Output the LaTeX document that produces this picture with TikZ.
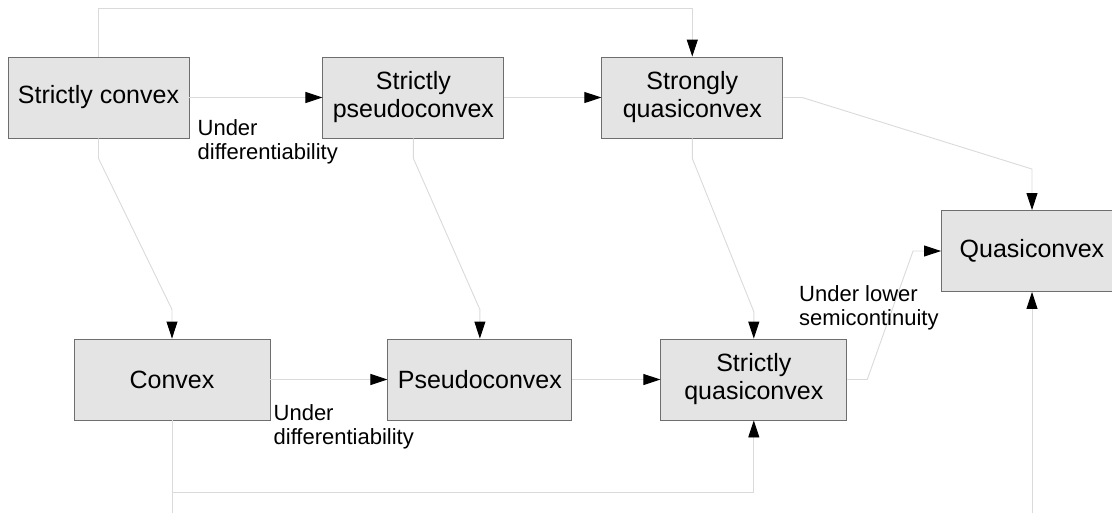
\documentclass[tikz,border=0pt]{standalone}
\usepackage{fontspec}
\setmainfont{Liberation Sans}
\usepackage{xcolor}
\usepackage{tikz}
\usetikzlibrary{arrows.meta,positioning,calc}

\definecolor{boxfill}{HTML}{E4E4E4}
\definecolor{boxline}{HTML}{6E6E6E}
\definecolor{linkgray}{HTML}{DADADA}

\begin{document}
\begin{tikzpicture}[x=1pt,y=-1pt,
  cbox/.style={draw=boxline,fill=boxfill,line width=0.9pt,minimum width=181pt,minimum height=81pt,
    align=center,inner sep=0pt,font=\fontsize{25}{28}\selectfont},
  link/.style={draw=linkgray,line width=0.9pt,-{Triangle[length=17pt,width=11pt,color=black]}},
  cond/.style={align=left,inner sep=0pt,font=\fontsize{22}{24.5}\selectfont}]
\useasboundingbox (0,0) rectangle (1112,512);
\clip (0,0) rectangle (1112,512);

\node[cbox] (scx) at (98.5,97.5) {Strictly convex};
\node[cbox,right=133pt of scx] (spc) {Strictly\\pseudoconvex};
\node[cbox,right=97pt of spc] (sqc) {Strongly\\quasiconvex};
\node[cbox,minimum width=196pt] (cx) at (172,379.5) {Convex};
\node[cbox,minimum width=184pt,right=117pt of cx] (pc) {Pseudoconvex};
\node[cbox,minimum width=186pt,right=88pt of pc] (sqx) {Strictly\\quasiconvex};
\node[cbox] (qc) at (1032,251) {Quasiconvex};

\draw[link] (scx.north) -- ++(0,-48) -| (sqc.north);
\draw[link] (scx) -- (spc);
\draw[link] (spc) -- (sqc);
\draw[link] (sqc.east) -- ++(19,0) -- ($(qc.north)+(0,-41)$) -- (qc.north);
\draw[link] (scx.south) -- ++(0,20) -- ($(cx.north)+(0,-29)$) -- (cx.north);
\draw[link] (spc.south) -- ++(0,20) -- ($(pc.north)+(0,-29)$) -- (pc.north);
\draw[link] (sqc.south) -- ++(0,20) -- ($(sqx.north)+(0,-27)$) -- (sqx.north);
\draw[link] (cx) -- (pc);
\draw[link] (pc) -- (sqx);
\draw[link] (sqx.east) -- ++(20,0) -- ($(qc.west)+(-28,0)$) -- (qc.west);
\draw[link] (cx.south) -- ++(0,72) -| (sqx.south);
\draw[link] (cx.south) -- ++(0,110) -| (qc.south);

\node[cond,below right=21.5pt and 8pt of scx.east] (lbl1) {Under\\differentiability};
\node[cond,below right=24.5pt and 3pt of cx.east] (lbl2) {Under\\differentiability};
\node[cond,anchor=north west] (lbl3) at (799,285) {Under lower\\semicontinuity};
\end{tikzpicture}
\end{document}
